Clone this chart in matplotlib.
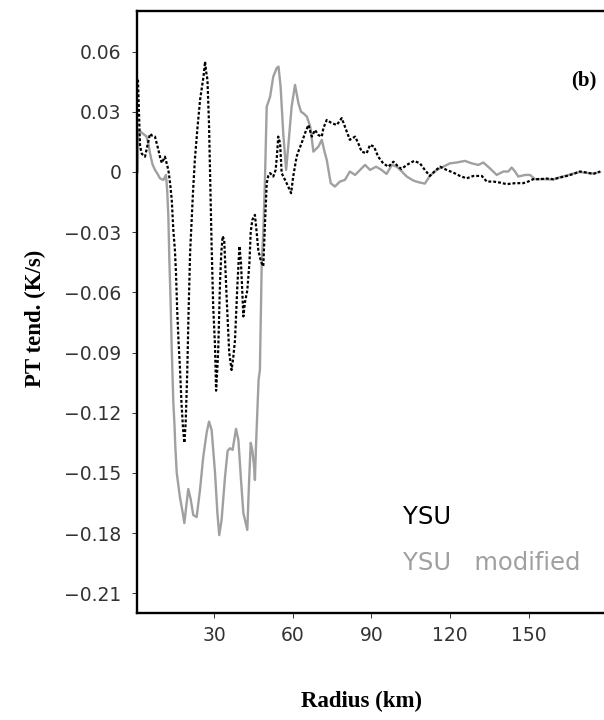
import matplotlib
matplotlib.use('Agg')
import matplotlib.pyplot as plt

# YSU (black dotted)
radius_ysu = [1.0, 1.4, 1.8, 2.5, 3.7, 4.6, 5.6, 6.5, 7.5, 8.2, 8.8, 9.5, 10.1, 10.7, 11.3, 12.0,
              12.6, 13.3, 13.9, 14.5, 15.1, 15.5, 16.0, 16.5, 17.0, 17.6, 18.2, 18.7, 19.2, 19.8,
              20.3, 20.9, 21.3, 22.0, 22.7, 23.7, 24.7, 25.4, 26.0, 26.6, 27.0, 27.5, 28.1, 28.5,
              29.1, 29.7, 30.4, 30.8, 31.2, 31.6, 32.3, 32.8, 33.3, 33.9, 34.8, 35.8, 36.7, 37.3,
              38.0, 38.9, 39.7, 40.3, 41.2, 41.8, 42.7, 43.5, 44.0, 44.6, 45.6, 46.3, 46.9, 47.6,
              48.2, 48.8, 49.4, 50.1, 50.7, 51.4, 52.6, 53.5, 54.0, 54.5, 55.2, 55.8, 57.1, 58.3,
              59.4, 60.2, 61.5, 62.4, 63.4, 64.7, 66.0, 67.3, 68.5, 69.8, 71.1, 71.7, 73.0, 74.9,
              76.8, 78.7, 80.6, 81.8, 83.8, 85.0, 86.3, 88.2, 89.5, 91.0, 92.6, 94.5, 96.5, 98.4,
              100.3, 101.5, 103.5, 106.3, 108.5, 110.4, 112.3, 114.3, 116.2, 118.7, 121.2, 123.8,
              126.3, 128.9, 132.1, 134.0, 136.5, 139.0, 141.6, 144.8, 147.9, 149.8, 151.7, 154.3,
              156.8, 159.4, 161.9, 164.5, 167.0, 169.5, 172.1, 174.6, 177.2]
pt_ysu = [0.046, 0.030, 0.013, 0.009, 0.0076, 0.013, 0.019, 0.018, 0.0176, 0.014, 0.011, 0.007,
          0.0045, 0.006, 0.0076, 0.004, 0.001, -0.006, -0.014, -0.029, -0.039, -0.05, -0.07,
          -0.085, -0.097, -0.115, -0.128, -0.135, -0.125, -0.1, -0.07, -0.04, -0.029, -0.01,
          0.006, 0.022, 0.036, 0.042, 0.0475, 0.055, 0.050, 0.046, 0.024, 0.0, -0.037, -0.067,
          -0.087, -0.109, -0.100, -0.089, -0.055, -0.040, -0.032, -0.034, -0.062, -0.090,
          -0.0987, -0.093, -0.084, -0.057, -0.037, -0.0455, -0.072, -0.065, -0.059, -0.0455,
          -0.030, -0.024, -0.0214, -0.0305, -0.039, -0.043, -0.0455, -0.047, -0.027, -0.0056,
          -0.002, -0.0006, -0.0023, 0.001, 0.008, 0.0176, 0.0143, -0.0006, -0.004, -0.0073,
          -0.0106, -0.0023, 0.0076, 0.011, 0.0143, 0.0193, 0.0234, 0.0176, 0.0209, 0.0184,
          0.0176, 0.0218, 0.0259, 0.0243, 0.0234, 0.0268, 0.0201, 0.016, 0.0176, 0.0143,
          0.0101, 0.0093, 0.0135, 0.0126, 0.0076, 0.0043, 0.0026, 0.0051, 0.0026, 0.0015,
          0.0035, 0.0055, 0.0043, 0.001, -0.002, 0.0005, 0.0026, 0.001, -0.0003, -0.002,
          -0.0032, -0.002, -0.002, -0.0048, -0.0048, -0.0053, -0.0061, -0.0056, -0.0056,
          -0.0048, -0.0036, -0.0036, -0.0033, -0.0036, -0.0028, -0.002, -0.001, 0.0002,
          -0.0003, -0.001, 0.0002]

# YSU modified (grey solid)
radius_mod = [0.9, 1.2, 2.0, 3.0, 4.3, 5.0, 5.6, 6.5, 7.5, 8.5, 9.4, 10.7, 11.7, 12.2, 12.6, 13.0,
              13.4, 13.9, 14.5, 14.9, 15.3, 15.8, 16.4, 17.0, 18.1, 18.7, 19.3, 20.2, 21.1, 22.1,
              23.4, 24.7, 25.9, 27.2, 28.1, 29.1, 30.4, 31.3, 32.0, 32.9, 34.2, 35.2, 36.1, 37.1,
              38.4, 39.3, 40.3, 41.2, 42.1, 42.7, 43.3, 44.0, 44.6, 45.3, 45.6, 46.0, 46.5, 47.0,
              47.5, 48.2, 48.8, 49.4, 50.1, 51.4, 52.6, 53.9, 54.6, 55.4, 56.4, 57.5, 58.3, 59.6,
              60.9, 62.2, 63.2, 64.1, 65.4, 66.7, 67.9, 69.8, 71.1, 72.3, 73.0, 74.5, 76.1, 78.0,
              79.9, 81.8, 83.8, 85.7, 87.6, 89.5, 91.8, 93.9, 95.8, 97.8, 99.7, 101.6, 103.5,
              106.0, 108.5, 110.4, 112.3, 114.9, 117.4, 120.0, 122.5, 125.7, 128.2, 130.8, 132.7,
              135.2, 137.8, 140.3, 142.2, 143.5, 144.8, 146.0, 148.6, 150.5, 152.4, 155.5, 159.4,
              161.9, 164.5, 167.0, 169.5, 172.1, 174.6, 177.2]
pt_mod = [0.0, 0.021, 0.020, 0.019, 0.0176, 0.014, 0.0093, 0.004, 0.001, -0.001, -0.0032, -0.004,
          -0.0015, -0.010, -0.0223, -0.045, -0.062, -0.0887, -0.115, -0.125, -0.138, -0.150,
          -0.156, -0.162, -0.170, -0.175, -0.168, -0.158, -0.163, -0.171, -0.172, -0.158,
          -0.142, -0.130, -0.1244, -0.1286, -0.150, -0.170, -0.181, -0.1734, -0.152, -0.139,
          -0.1377, -0.1385, -0.128, -0.1336, -0.1535, -0.170, -0.175, -0.1784, -0.157, -0.135,
          -0.1385, -0.147, -0.1535, -0.137, -0.120, -0.1037, -0.0987, -0.0455, -0.030,
          -0.0056, 0.0325, 0.0375, 0.0475, 0.0517, 0.0525, 0.0425, 0.0193, 0.001, 0.0126,
          0.0325, 0.0434, 0.0342, 0.030, 0.0292, 0.0276, 0.0226, 0.0101, 0.0126, 0.016,
          0.0093, 0.006, -0.0056, -0.0073, -0.0048, -0.004, 0.0002, -0.0015, 0.001, 0.0035,
          0.001, 0.0026, 0.001, -0.001, 0.0035, 0.0026, 0.0002, -0.0023, -0.0043, -0.0053,
          -0.0058, -0.002, 0.001, 0.0026, 0.0043, 0.0047, 0.0055, 0.0043, 0.0035, 0.0047,
          0.0018, -0.0015, 0.0002, 0.0002, 0.0022, 0.0002, -0.0023, -0.0015, -0.0015, -0.0036,
          -0.0036, -0.0038, -0.0026, -0.0018, -0.0008, 0.0, -0.0005, -0.0008, 0.0]

xticks = [30, 60, 90, 120, 150]
yticks = [0.06, 0.03, 0, -0.03, -0.06, -0.09, -0.12, -0.15, -0.18, -0.21]
ytick_labels = ['0.06', '0.03', '0', '\u22120.03', '\u22120.06', '\u22120.09', '\u22120.12',
                '\u22120.15', '\u22120.18', '\u22120.21']

grey = '#a0a0a0'


def main():
    W, H = 604, 720
    fig = plt.figure(figsize=(W / 100, H / 100), dpi=100)
    # axes runs off the right edge of the picture, as in the original
    left, top, bottom = 137.3, 11, 613
    ax = fig.add_axes([left / W, 1 - bottom / H, (W - left) / W, (bottom - top) / H])

    ax.plot(radius_mod, pt_mod, color=grey, lw=1.7)
    ax.plot(radius_ysu, pt_ysu, color='black', lw=1.6, linestyle=(0, (1.3, 0.9)))

    ax.set_xlim(0.76, 178.7)
    ax.set_ylim(-0.2198, 0.0802)
    ax.set_xticks(xticks)
    ax.set_xticklabels([str(t) for t in xticks])
    ax.set_yticks(yticks)
    ax.set_yticklabels(ytick_labels)

    for s in ['left', 'top', 'bottom']:
        ax.spines[s].set_linewidth(1.7)
    ax.spines['right'].set_visible(False)
    ax.tick_params(direction='out', length=3.6, width=0.7, color='#333333',
                   labelsize=13.5, labelcolor='#333333', pad=6)
    ax.tick_params(axis='y', pad=8)

    fig.text(403 / W, 1 - 517 / H, 'YSU', fontsize=17.5, color='black', va='center', ha='left')
    fig.text(403 / W, 1 - 563 / H, 'YSU   modified', fontsize=17.5, color=grey,
             va='center', ha='left')

    fig.text(584 / W, 1 - 80 / H, '(b)', fontsize=15, fontweight='bold',
             family='Liberation Serif', ha='center', va='center')
    fig.text(362 / W, 1 - 701 / H, 'Radius (km)', fontsize=16.5, fontweight='bold',
             family='Liberation Serif', ha='center', va='center')
    fig.text(35 / W, 1 - 318 / H, 'PT tend. (K/s)', fontsize=16.5, fontweight='bold',
             family='Liberation Serif', ha='center', va='center', rotation=90)

    fig.savefig('out.png', dpi=100)


if __name__ == '__main__':
    main()
